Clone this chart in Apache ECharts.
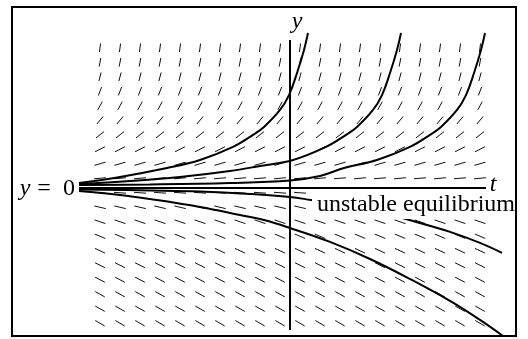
<!DOCTYPE html>
<html>
<head>
<meta charset="utf-8">
<script src="https://cdn.jsdelivr.net/npm/echarts@6/dist/echarts.min.js"></script>
<style>
  html, body { margin: 0; padding: 0; background: #fff; }
  #chart { width: 528px; height: 339px; }
</style>
</head>
<body>
<div id="chart"></div>
<script>
// Direction field of an autonomous equation: every row shares one slope.
const fieldT = [-9.5, -8.5, -7.5, -6.5, -5.5, -4.5, -3.5, -2.5, -1.5, -0.5,
                 0.5, 1.5, 2.5, 3.5, 4.5, 5.5, 6.5, 7.5, 8.5, 9.5];
const fieldY = [9.67, 8.67, 7.67, 6.67, 5.67, 4.67, 3.67, 2.67, 1.67, 0.67,
                -0.33, -1.33, -2.33, -3.33, -4.33, -5.33, -6.33, -7.33, -8.33, -9.33];
const fieldSlope = [9.8, 7.1, 5.1, 3.6, 2.5, 1.65, 1.08, 0.70, 0.40, 0.12,
                    -0.10, -0.32, -0.47, -0.58, -0.64, -0.70, -0.73, -0.77, -0.77, -0.80];

// Axis extents: t axis along y = 0, y axis along t = 0
const tAxisLine = [[-10.55, 0], [9.8, 0]];
const yAxisLine = [[0, -9.8], [0, 10.2]];

// Solution curves [t, y]
const solutionA = [[-10.55, 0.34], [-8.5, 0.76], [-6.15, 1.38], [-4.5, 1.93], [-2.85, 2.83],
                   [-1.85, 3.66], [-1.3, 4.21], [-0.5, 5.38], [-0.05, 6.41], [0.35, 7.93],
                   [0.7, 9.52], [0.9, 10.69]];
const solutionB = [[-10.55, 0.28], [-8.0, 0.48], [-5.5, 0.76], [-3.0, 1.17], [-1.5, 1.52],
                   [0.15, 1.93], [1.8, 2.83], [2.8, 3.66], [3.35, 4.21], [4.15, 5.38],
                   [4.6, 6.41], [5.0, 7.93], [5.35, 9.52], [5.55, 10.69]];
const solutionC = [[-10.55, 0.21], [-7.0, 0.24], [-3.0, 0.34], [0, 0.52], [1.5, 0.83],
                   [2.7, 1.38], [4.35, 1.93], [6.0, 2.83], [7.0, 3.66], [7.55, 4.21],
                   [8.35, 5.38], [8.8, 6.41], [9.2, 7.93], [9.55, 9.52], [9.75, 10.69]];
const solutionD = [[-10.55, -0.10], [-7.0, -0.17], [-4.5, -0.24], [-2.0, -0.41], [0, -0.62],
                   [1.05, -0.83], [3.0, -1.24], [4.5, -1.66], [6.15, -2.28], [8.0, -3.03],
                   [9.5, -3.79], [10.6, -4.48]];
const solutionE = [[-10.55, -0.21], [-8.5, -0.48], [-7.0, -0.76], [-4.5, -1.31], [-2.5, -1.86],
                   [-1.3, -2.21], [0, -2.76], [2.0, -3.72], [4.0, -4.90], [6.0, -6.28],
                   [8.0, -7.79], [9.5, -9.10], [10.65, -10.21]];

const SERIF = '"Liberation Serif", "Times New Roman", serif';

const fieldData = [];
fieldY.forEach((y, i) => {
  fieldT.forEach(t => fieldData.push([t, y, fieldSlope[i]]));
});

// Short segment centred on each grid point, pointing along the slope
function renderDash(params, api) {
  const t = api.value(0), y = api.value(1), s = api.value(2);
  const n = Math.sqrt(1 + s * s);
  const half = 0.3;
  const dt = half / n, dy = half * s / n;
  const p0 = api.coord([t - dt, y - dy]);
  const p1 = api.coord([t + dt, y + dy]);
  return {
    type: 'line',
    shape: { x1: p0[0], y1: p0[1], x2: p1[0], y2: p1[1] },
    style: { stroke: '#111', lineWidth: 1 }
  };
}

function curve(data, smooth) {
  return {
    type: 'line', data: data, showSymbol: false, smooth: smooth, clip: false,
    lineStyle: { color: '#000', width: 2 }, silent: true, z: 3
  };
}

function label(text, x, y, italic, align) {
  return {
    type: 'text', z: 102,
    style: {
      text: text, x: x, y: y,
      font: (italic ? 'italic ' : '') + '24px ' + SERIF,
      fill: '#000', align: align || 'center', verticalAlign: 'middle'
    }
  };
}

const hiddenAxis = {
  type: 'value',
  axisLine: { show: false }, axisTick: { show: false },
  axisLabel: { show: false }, splitLine: { show: false }
};

const chart = echarts.init(document.getElementById('chart'), null, { renderer: 'canvas' });
chart.setOption({
  animation: false,
  backgroundColor: '#fff',
  grid: { left: 79, right: 24, top: 33, bottom: 3 },
  xAxis: Object.assign({}, hiddenAxis, { min: -10.55, max: 10.7 }),
  yAxis: Object.assign({}, hiddenAxis, { min: -10.21, max: 10.69 }),
  series: [
    { type: 'custom', data: fieldData, renderItem: renderDash, encode: { x: 0, y: 1 }, silent: true, z: 2 },
    curve(tAxisLine, false), curve(yAxisLine, false),
    curve(solutionA, 0.4), curve(solutionB, 0.4), curve(solutionC, 0.4),
    curve(solutionD, 0.4), curve(solutionE, 0.4)
  ],
  graphic: [
    { type: 'rect', z: 100, shape: { x: 12, y: 7, width: 504, height: 329 },
      style: { fill: 'none', stroke: '#000', lineWidth: 2 } },
    { type: 'rect', z: 101, shape: { x: 312, y: 190, width: 203, height: 29 },
      style: { fill: '#fff', stroke: 'none' } },
    label('unstable equilibrium', 317, 205, false, 'left'),
    label('y', 25, 188.5, true),
    label('=', 44, 188.5, false),
    label('0', 69, 188.5, false),
    label('t', 493, 184.5, true),
    label('y', 297, 21.5, true)
  ]
});
</script>
</body>
</html>
